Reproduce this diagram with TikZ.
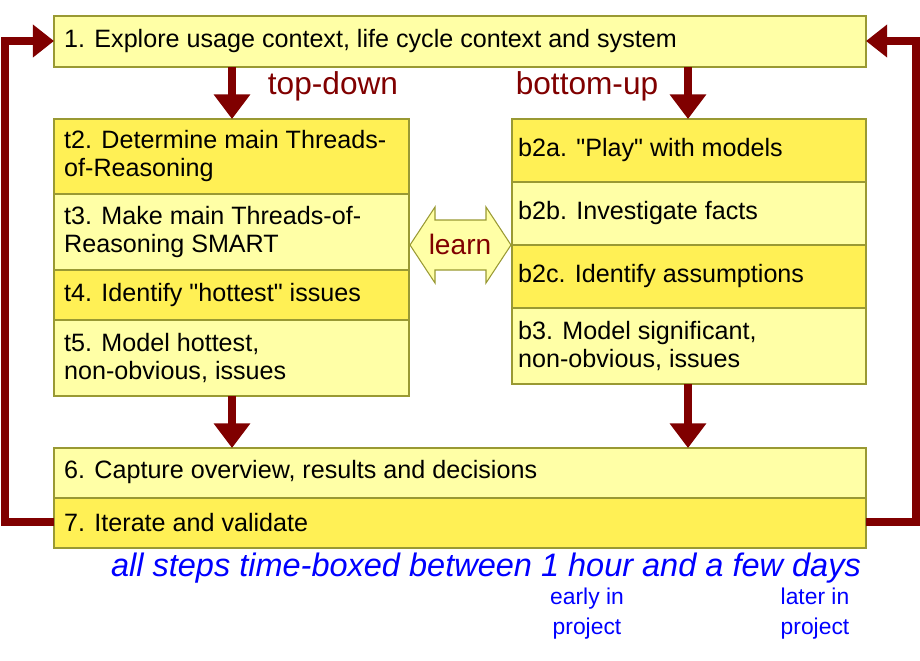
\documentclass[tikz,border=0pt]{standalone}
\usepackage{fontspec}
\setmainfont{Liberation Sans}[Ligatures=TeXOff]
\usetikzlibrary{arrows.meta}
\definecolor{dy}{HTML}{FFF055}
\definecolor{ly}{HTML}{FFFFA6}
\definecolor{bd}{HTML}{999933}
\definecolor{dr}{HTML}{800000}
\definecolor{bl}{HTML}{0000FF}
\begin{document}
\begin{tikzpicture}[x=0.02cm,y=-0.02cm,
 box/.style={draw=bd,line width=0.6pt},
 lbl/.style={anchor=west,align=left,font=\fontsize{14.3}{16.5}\selectfont},
 arr/.style={draw=dr,line width=5pt,-{Triangle[length=14pt,width=20pt]}},
 loop/.style={draw=dr,line width=5pt,-{Triangle[length=12pt,width=18pt]}}]
\useasboundingbox (0,0) rectangle (920,660);
% box 1
\draw[box,fill=ly] (54,16) rectangle (866,67);
\node[lbl] (n1) at (58,41) {1. Explore usage context, life cycle context and system};
% left column
\draw[box,fill=dy] (54,119) rectangle (409,194);
\draw[box,fill=ly] (54,194) rectangle (409,270);
\draw[box,fill=dy] (54,270) rectangle (409,320);
\draw[box,fill=ly] (54,320) rectangle (409,396);
\node[lbl] (t2) at (58,156) {t2. Determine main Threads-\\of-Reasoning};
\node[lbl] (t3) at (58,232) {t3. Make main Threads-of-\\Reasoning SMART};
\node[lbl] (t4) at (58,295) {t4. Identify "hottest" issues};
\node[lbl] (t5) at (58,358) {t5. Model hottest,\\non-obvious, issues};
% right column
\draw[box,fill=dy] (512,119) rectangle (866,182);
\draw[box,fill=ly] (512,182) rectangle (866,245);
\draw[box,fill=dy] (512,245) rectangle (866,308);
\draw[box,fill=ly] (512,308) rectangle (866,384);
\node[lbl] (b2a) at (512,150) {b2a. "Play" with models};
\node[lbl] (b2b) at (512,213) {b2b. Investigate facts};
\node[lbl] (b2c) at (512,276) {b2c. Identify assumptions};
\node[lbl] (b3) at (512,346) {b3. Model significant,\\non-obvious, issues};
% bottom
\draw[box,fill=ly] (54,448) rectangle (866,498);
\draw[box,fill=dy] (54,498) rectangle (866,548);
\node[lbl] (n6) at (58,472) {6. Capture overview, results and decisions};
\node[lbl] (n7) at (58,523) {7. Iterate and validate};
% learn arrow
\draw[box,fill=ly] (410,245) -- (435,207) -- (435,220) -- (486,220) -- (486,207) -- (511,245)
  -- (486,283) -- (486,270) -- (435,270) -- (435,283) -- cycle;
\node[text=dr,font=\fontsize{16}{20}\selectfont] (learn) at (460,244) {learn};
% down arrows
\coordinate (a1) at (232,67); \coordinate (a1e) at (232,119);
\coordinate (a2) at (688,67); \coordinate (a2e) at (688,119);
\coordinate (a3) at (232,396); \coordinate (a3e) at (232,448);
\coordinate (a4) at (688,384); \coordinate (a4e) at (688,448);
\draw[arr] (a1) -- (a1e);
\draw[arr] (a2) -- (a2e);
\draw[arr] (a3) -- (a3e);
\draw[arr] (a4) -- (a4e);
\node[text=dr,font=\fontsize{18}{22}\selectfont] (td) at (333,86) {top-down};
\node[text=dr,font=\fontsize{18}{22}\selectfont] (bu) at (587,86) {bottom-up};
% loops
\coordinate (l1) at (54,522); \coordinate (l2) at (5,522); \coordinate (l3) at (5,41); \coordinate (l4) at (54,41);
\coordinate (r1) at (866,522); \coordinate (r2) at (916,522); \coordinate (r3) at (916,41); \coordinate (r4) at (866,41);
\draw[loop] (l1) -- (l2) -- (l3) -- (l4);
\draw[loop] (r1) -- (r2) -- (r3) -- (r4);
% notes
\node[text=bl,font=\fontsize{18.5}{22}\selectfont\itshape] (note) at (486,568) {all steps time-boxed between 1 hour and a few days};
\node[text=bl,align=center,font=\fontsize{13}{17}\selectfont] (early) at (587,614) {early in\\project};
\node[text=bl,align=center,font=\fontsize{13}{17}\selectfont] (later) at (815,614) {later in\\project};
\end{tikzpicture}
\end{document}
